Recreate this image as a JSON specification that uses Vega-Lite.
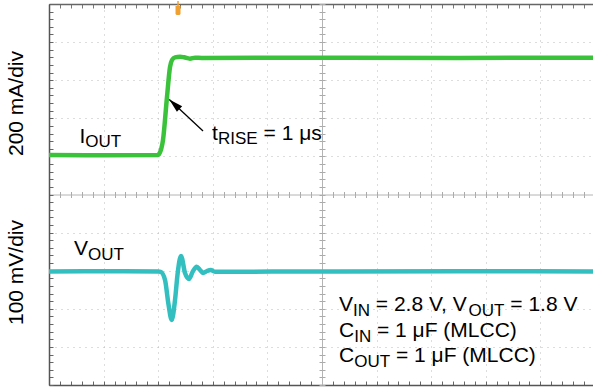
{
  "$schema": "https://vega.github.io/schema/vega-lite/v6.json",
  "width": 544,
  "height": 381,
  "autosize": {"type": "none"},
  "padding": {"left": 49, "top": 4, "right": 0, "bottom": 3},
  "background": "white",
  "config": {"view": {"stroke": null}, "font": "Liberation Sans"},
  "datasets": {
    "iout": [
      {"t": 0, "v": 1.037}, {"t": 1.0, "v": 1.03}, {"t": 1.996, "v": 1.037}, {"t": 2.015, "v": 1.06},
      {"t": 2.088, "v": 1.43}, {"t": 2.161, "v": 2.559}, {"t": 2.216, "v": 3.346}, {"t": 2.253, "v": 3.53},
      {"t": 2.308, "v": 3.6}, {"t": 2.4, "v": 3.615}, {"t": 2.473, "v": 3.6}, {"t": 2.582, "v": 3.565},
      {"t": 2.674, "v": 3.59}, {"t": 2.8, "v": 3.585}, {"t": 5.0, "v": 3.59}, {"t": 7.5, "v": 3.585}, {"t": 9.963, "v": 3.59}
    ],
    "vout": [
      {"t": 0, "v": -2.021}, {"t": 1.0, "v": -2.015}, {"t": 2.0, "v": -2.021}, {"t": 2.046, "v": -2.03},
      {"t": 2.125, "v": -2.244}, {"t": 2.185, "v": -2.848}, {"t": 2.247, "v": -3.294}, {"t": 2.308, "v": -2.769},
      {"t": 2.357, "v": -2.06}, {"t": 2.418, "v": -1.614}, {"t": 2.491, "v": -2.06}, {"t": 2.564, "v": -2.218},
      {"t": 2.632, "v": -2.026}, {"t": 2.705, "v": -1.895}, {"t": 2.766, "v": -1.982}, {"t": 2.821, "v": -2.06},
      {"t": 2.894, "v": -2.008}, {"t": 2.962, "v": -1.982}, {"t": 3.04, "v": -2.026}, {"t": 5.0, "v": -2.021},
      {"t": 7.5, "v": -2.015}, {"t": 9.963, "v": -2.021}
    ],
    "arrow": [{"t": 2.821, "v": 1.667, "t2": 2.203, "v2": 2.493}],
    "head": [{"t": 2.203, "v": 2.493}],
    "trig": [{"t": 2.363, "v": 4.882}],
    "mainText": [
      {"t": 0.559, "v": 1.352, "text": "I"},
      {"t": 2.985, "v": 1.43, "text": "t"},
      {"t": 3.929, "v": 1.43, "text": "= 1 μs"},
      {"t": 0.458, "v": -1.588, "text": "V"},
      {"t": 5.311, "v": -3.058, "text": "V"},
      {"t": 5.985, "v": -3.058, "text": "= 2.8 V, V"},
      {"t": 8.449, "v": -3.058, "text": "= 1.8 V"},
      {"t": 5.311, "v": -3.748, "text": "C"},
      {"t": 6.007, "v": -3.748, "text": "= 1 μF (MLCC)"},
      {"t": 5.311, "v": -4.409, "text": "C"},
      {"t": 6.355, "v": -4.409, "text": "= 1 μF (MLCC)"}
    ],
    "subText": [
      {"t": 0.665, "v": 1.234, "text": "OUT"},
      {"t": 3.095, "v": 1.325, "text": "RISE"},
      {"t": 0.714, "v": -1.719, "text": "OUT"},
      {"t": 5.568, "v": -3.189, "text": "IN"},
      {"t": 7.685, "v": -3.189, "text": "OUT"},
      {"t": 5.59, "v": -3.879, "text": "IN"},
      {"t": 5.59, "v": -4.54, "text": "OUT"}
    ],
    "scaleLabels": [
      {"t": -0.595, "v": 2.388, "text": "200 mA/div"},
      {"t": -0.595, "v": -2.047, "text": "100 mV/div"}
    ]
  },
  "resolve": {"axis": {"x": "independent", "y": "independent"}},
  "layer": [
    {
      "data": {"name": "iout"},
      "mark": {"type": "line", "color": "#3ac23a", "strokeWidth": 4.5, "clip": true, "interpolate": "monotone"},
      "encoding": {
        "x": {"field": "t", "type": "quantitative", "scale": {"domain": [0, 9.963], "nice": false, "zero": false},
          "axis": {"orient": "bottom", "values": [1, 2, 3, 4, 5, 6, 7, 8, 9], "grid": true, "gridDash": [1, 5], "gridColor": "#bbbbbb", "gridWidth": 1, "domain": false, "ticks": false, "labels": false, "title": null}},
        "y": {"field": "v", "type": "quantitative", "scale": {"domain": [-5, 5], "nice": false, "zero": false},
          "axis": {"orient": "left", "values": [-4, -3, -2, -1, 1, 2, 3, 4], "grid": true, "gridDash": [1, 5], "gridColor": "#bbbbbb", "gridWidth": 1, "domain": false, "ticks": false, "labels": false, "title": null}}
      }
    },
    {
      "data": {"name": "vout"},
      "mark": {"type": "line", "color": "#33bfc0", "strokeWidth": 4.5, "clip": true, "interpolate": "monotone"},
      "encoding": {
        "x": {"field": "t", "type": "quantitative", "scale": {"domain": [0, 9.963], "nice": false, "zero": false},
          "axis": {"orient": "bottom", "values": [0,0.2,0.4,0.6,0.8,1,1.2,1.4,1.6,1.8,2,2.2,2.4,2.6,2.8,3,3.2,3.4,3.6,3.8,4,4.2,4.4,4.6,4.8,5,5.2,5.4,5.6,5.8,6,6.2,6.4,6.6,6.8,7,7.2,7.4,7.6,7.8,8,8.2,8.4,8.6,8.8,9,9.2,9.4,9.6,9.8], "tickSize": -4, "tickColor": "#666", "domain": true, "domainColor": "#555", "domainWidth": 1.5, "grid": false, "labels": false, "title": null}},
        "y": {"field": "v", "type": "quantitative", "scale": {"domain": [-5, 5], "nice": false, "zero": false},
          "axis": {"orient": "left", "values": [-5,-4.8,-4.6,-4.4,-4.2,-4,-3.8,-3.6,-3.4,-3.2,-3,-2.8,-2.6,-2.4,-2.2,-2,-1.8,-1.6,-1.4,-1.2,-1,-0.8,-0.6,-0.4,-0.2,0,0.2,0.4,0.6,0.8,1,1.2,1.4,1.6,1.8,2,2.2,2.4,2.6,2.8,3,3.2,3.4,3.6,3.8,4,4.2,4.4,4.6,4.8,5], "tickSize": -4, "tickColor": "#666", "domain": true, "domainColor": "#555", "domainWidth": 1.5, "grid": false, "labels": false, "title": null}}
      }
    },
    {
      "data": {"name": "arrow"},
      "mark": {"type": "rule", "color": "black", "strokeWidth": 1.3},
      "encoding": {
        "x": {"field": "t", "type": "quantitative", "scale": {"domain": [0, 9.963], "nice": false, "zero": false},
          "axis": {"orient": "top", "values": [0,0.2,0.4,0.6,0.8,1,1.2,1.4,1.6,1.8,2,2.2,2.4,2.6,2.8,3,3.2,3.4,3.6,3.8,4,4.2,4.4,4.6,4.8,5,5.2,5.4,5.6,5.8,6,6.2,6.4,6.6,6.8,7,7.2,7.4,7.6,7.8,8,8.2,8.4,8.6,8.8,9,9.2,9.4,9.6,9.8], "tickSize": -4, "tickColor": "#777", "domain": true, "domainColor": "#666", "domainWidth": 1.5, "grid": false, "labels": false, "title": null}},
        "y": {"field": "v", "type": "quantitative", "scale": {"domain": [-5, 5], "nice": false, "zero": false},
          "axis": {"orient": "left", "offset": -273, "values": [-5,-4.8,-4.6,-4.4,-4.2,-4,-3.8,-3.6,-3.4,-3.2,-3,-2.8,-2.6,-2.4,-2.2,-2,-1.8,-1.6,-1.4,-1.2,-1,-0.8,-0.6,-0.4,-0.2,0,0.2,0.4,0.6,0.8,1,1.2,1.4,1.6,1.8,2,2.2,2.4,2.6,2.8,3,3.2,3.4,3.6,3.8,4,4.2,4.4,4.6,4.8,5], "tickSize": 3, "tickColor": "#aaa", "domain": true, "domainColor": "#b4b4b4", "grid": false, "labels": false, "title": null}},
        "x2": {"field": "t2"},
        "y2": {"field": "v2"}
      }
    },
    {
      "data": {"name": "head"},
      "mark": {"type": "point", "shape": "M0,0L-0.5,1.8L0.5,1.8Z", "size": 240, "angle": 312.8, "filled": true, "color": "black", "opacity": 1},
      "encoding": {
        "x": {"field": "t", "type": "quantitative", "scale": {"domain": [0, 9.963], "nice": false, "zero": false},
          "axis": {"orient": "bottom", "offset": -190.5, "values": [0,0.2,0.4,0.6,0.8,1,1.2,1.4,1.6,1.8,2,2.2,2.4,2.6,2.8,3,3.2,3.4,3.6,3.8,4,4.2,4.4,4.6,4.8,5,5.2,5.4,5.6,5.8,6,6.2,6.4,6.6,6.8,7,7.2,7.4,7.6,7.8,8,8.2,8.4,8.6,8.8,9,9.2,9.4,9.6,9.8], "tickSize": 3, "tickColor": "#aaa", "domain": true, "domainColor": "#b4b4b4", "grid": false, "labels": false, "title": null}},
        "y": {"field": "v", "type": "quantitative", "scale": {"domain": [-5, 5], "nice": false, "zero": false},
          "axis": {"orient": "left", "offset": -273, "values": [-5,-4.8,-4.6,-4.4,-4.2,-4,-3.8,-3.6,-3.4,-3.2,-3,-2.8,-2.6,-2.4,-2.2,-2,-1.8,-1.6,-1.4,-1.2,-1,-0.8,-0.6,-0.4,-0.2,0,0.2,0.4,0.6,0.8,1,1.2,1.4,1.6,1.8,2,2.2,2.4,2.6,2.8,3,3.2,3.4,3.6,3.8,4,4.2,4.4,4.6,4.8,5], "tickSize": -3, "tickColor": "#aaa", "domain": false, "grid": false, "labels": false, "title": null}}
      }
    },
    {
      "data": {"name": "trig"},
      "mark": {"type": "point", "shape": "M-0.15,-1.5L0.15,-1.5L0.15,-0.5L0.5,-0.5L0.5,1.1L0.3,1.3L-0.3,1.3L-0.5,1.1L-0.5,-0.5L-0.15,-0.5Z", "size": 100, "filled": true, "color": "#f0a030", "opacity": 1},
      "encoding": {
        "x": {"field": "t", "type": "quantitative", "scale": {"domain": [0, 9.963], "nice": false, "zero": false},
          "axis": {"orient": "bottom", "offset": -190.5, "values": [0,0.2,0.4,0.6,0.8,1,1.2,1.4,1.6,1.8,2,2.2,2.4,2.6,2.8,3,3.2,3.4,3.6,3.8,4,4.2,4.4,4.6,4.8,5,5.2,5.4,5.6,5.8,6,6.2,6.4,6.6,6.8,7,7.2,7.4,7.6,7.8,8,8.2,8.4,8.6,8.8,9,9.2,9.4,9.6,9.8], "tickSize": -3, "tickColor": "#aaa", "domain": false, "grid": false, "labels": false, "title": null}},
        "y": {"field": "v", "type": "quantitative", "scale": {"domain": [-5, 5], "nice": false, "zero": false}, "axis": null}
      }
    },
    {
      "data": {"name": "mainText"},
      "mark": {"type": "text", "font": "Liberation Sans", "fontSize": 21, "color": "black", "align": "left", "baseline": "alphabetic"},
      "encoding": {
        "x": {"field": "t", "type": "quantitative", "scale": {"domain": [0, 9.963], "nice": false, "zero": false}, "axis": null},
        "y": {"field": "v", "type": "quantitative", "scale": {"domain": [-5, 5], "nice": false, "zero": false}, "axis": null},
        "text": {"field": "text"}
      }
    },
    {
      "data": {"name": "subText"},
      "mark": {"type": "text", "font": "Liberation Sans", "fontSize": 17, "color": "black", "align": "left", "baseline": "alphabetic"},
      "encoding": {
        "x": {"field": "t", "type": "quantitative", "scale": {"domain": [0, 9.963], "nice": false, "zero": false}, "axis": null},
        "y": {"field": "v", "type": "quantitative", "scale": {"domain": [-5, 5], "nice": false, "zero": false}, "axis": null},
        "text": {"field": "text"}
      }
    },
    {
      "data": {"name": "scaleLabels"},
      "mark": {"type": "text", "font": "Liberation Sans", "fontSize": 21, "color": "black", "align": "center", "baseline": "middle", "angle": 270},
      "encoding": {
        "x": {"field": "t", "type": "quantitative", "scale": {"domain": [0, 9.963], "nice": false, "zero": false}, "axis": null},
        "y": {"field": "v", "type": "quantitative", "scale": {"domain": [-5, 5], "nice": false, "zero": false}, "axis": null},
        "text": {"field": "text"}
      }
    }
  ]
}
